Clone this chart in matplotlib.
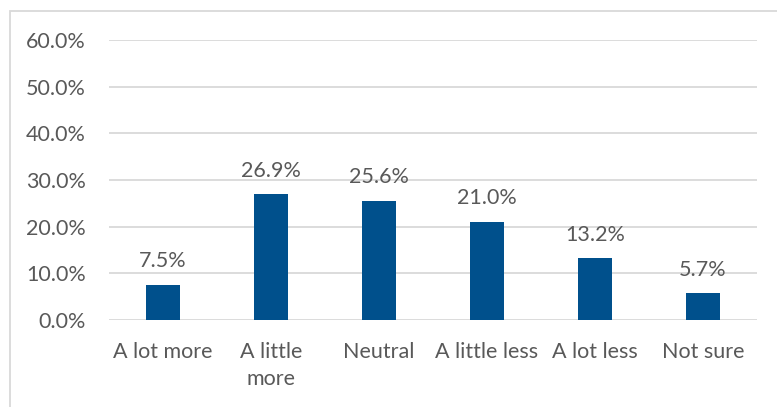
import matplotlib
matplotlib.use("Agg")
import matplotlib.pyplot as plt
from matplotlib.patches import Rectangle
from matplotlib.ticker import FuncFormatter

categories = ["A lot more", "A little\nmore", "Neutral", "A little less", "A lot less", "Not sure"]
shares = [7.5, 26.9, 25.6, 21.0, 13.2, 5.7]
y_ticks = [0, 10, 20, 30, 40, 50, 60]

bar_color = "#00508C"
text_color = "#595959"
grid_color = "#D9D9D9"

plt.rcParams["font.family"] = ["Lato", "DejaVu Sans"]

W, H = 777, 407
fig = plt.figure(figsize=(W / 100, H / 100), dpi=100)

# chart-area outline (extends past the right and bottom edges)
fig.add_artist(Rectangle((10 / W, -0.1), 1.2, 1.1 - 11 / H, transform=fig.transFigure,
                         fill=False, edgecolor=grid_color, linewidth=1.3))

ax = fig.add_axes([109 / W, 1 - 320 / H, (757 - 109) / W, (320 - 40) / H])
x = range(len(categories))
bars = ax.bar(x, shares, width=0.31, color=bar_color, zorder=3)

fs = 15.5
ax.set_xlim(-0.5, len(categories) - 0.5)
ax.set_ylim(0, 60)
ax.set_yticks(y_ticks)
ax.yaxis.set_major_formatter(FuncFormatter(lambda v, _: f"{v:.1f}%"))
ax.set_xticks(list(x))
ax.set_xticklabels(categories, linespacing=1.45)
ax.grid(axis="y", color=grid_color, linewidth=1.3, zorder=0)
for side in ["top", "right", "left", "bottom"]:
    ax.spines[side].set_visible(False)
ax.tick_params(axis="both", length=0, labelsize=fs, colors=text_color)
ax.tick_params(axis="y", pad=16.5)
ax.tick_params(axis="x", pad=16)
for lbl in ax.get_xticklabels():
    lbl.set_verticalalignment("top")

for rect, v in zip(bars, shares):
    ax.annotate(f"{v:.1f}%", (rect.get_x() + rect.get_width() / 2, v),
                xytext=(0, 10), textcoords="offset points", ha="center", va="bottom",
                fontsize=fs, color=text_color)

fig.savefig("out.png", dpi=100, facecolor="white")
